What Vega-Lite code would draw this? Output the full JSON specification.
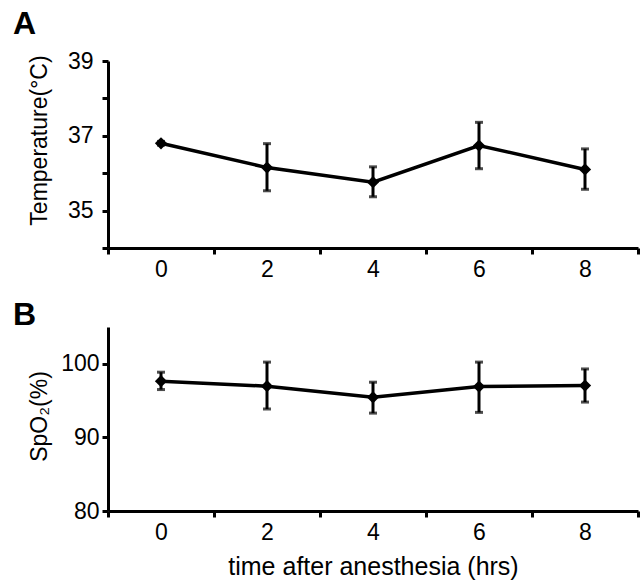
{
  "$schema": "https://vega.github.io/schema/vega-lite/v6.json",
  "background": "white",
  "padding": {"left": 13, "top": 8, "right": 2, "bottom": 2},
  "config": {
    "view": {"stroke": null},
    "font": "Liberation Sans",
    "title": {"anchor": "start", "frame": "bounds", "fontSize": 32, "fontWeight": "bold", "color": "black", "font": "Liberation Sans"}
  },
  "datasets": {
    "temp": [
      {"t": 0, "mean": 36.8, "lo": 36.75, "hi": 36.85},
      {"t": 2, "mean": 36.15, "lo": 35.53, "hi": 36.79},
      {"t": 4, "mean": 35.76, "lo": 35.37, "hi": 36.17},
      {"t": 6, "mean": 36.74, "lo": 36.12, "hi": 37.36},
      {"t": 8, "mean": 36.1, "lo": 35.57, "hi": 36.65}
    ],
    "spo2": [
      {"t": 0, "mean": 97.64, "lo": 96.5, "hi": 98.86},
      {"t": 2, "mean": 96.96, "lo": 93.86, "hi": 100.23},
      {"t": 4, "mean": 95.45, "lo": 93.3, "hi": 97.5},
      {"t": 6, "mean": 96.9, "lo": 93.4, "hi": 100.23},
      {"t": 8, "mean": 97.04, "lo": 94.8, "hi": 99.3}
    ]
  },
  "spacing": 18,
  "vconcat": [
    {
      "width": 530, "height": 187,
      "title": {"text": "A", "dx": -15, "offset": 9},
      "data": {"name": "temp"},
      "encoding": {
        "x": {
          "field": "t", "type": "quantitative",
          "scale": {"domain": [-1, 9], "nice": false, "zero": false},
          "axis": {
            "title": null, "values": [-1, 0, 1, 2, 3, 4, 5, 6, 7, 8, 9],
            "labelExpr": "datum.value % 2 == 0 ? datum.label : ''",
            "tickOpacity": {"condition": {"test": "datum.value % 2 == 0", "value": 0}, "value": 1},
            "labelOverlap": false, "labelFlush": false, "grid": false,
            "domainColor": "black", "domainWidth": 3, "tickColor": "black", "tickWidth": 3, "tickSize": 6,
            "labelColor": "black", "labelFontSize": 23, "labelFont": "Liberation Sans", "labelPadding": 4
          }
        }
      },
      "layer": [
        {
          "mark": {"type": "rule", "strokeWidth": 3, "color": "black"},
          "encoding": {
            "y": {
              "field": "lo", "type": "quantitative", "title": "Temperature(°C)",
              "scale": {"domain": [34, 39], "nice": false, "zero": false},
              "axis": {
                "values": [34, 35, 36, 37, 38, 39],
                "labelExpr": "datum.value == 35 || datum.value == 37 || datum.value == 39 ? datum.label : ''",
                "labelOverlap": false, "labelFlush": false, "grid": false,
                "domainColor": "black", "domainWidth": 3, "tickColor": "black", "tickWidth": 3, "tickSize": 6,
                "labelColor": "black", "labelFontSize": 23, "labelFont": "Liberation Sans", "labelPadding": 9,
                "titleColor": "black", "titleFont": "Liberation Sans", "titleFontWeight": "normal", "titleFontSize": 23, "titleX": -57, "titleY": 79
              }
            },
            "y2": {"field": "hi"}
          }
        },
        {
          "mark": {"type": "tick", "orient": "horizontal", "size": 8, "thickness": 3, "color": "black"},
          "encoding": {"y": {
              "field": "lo", "type": "quantitative", "title": "Temperature(°C)",
              "scale": {"domain": [34, 39], "nice": false, "zero": false},
              "axis": {
                "values": [34, 35, 36, 37, 38, 39],
                "labelExpr": "datum.value == 35 || datum.value == 37 || datum.value == 39 ? datum.label : ''",
                "labelOverlap": false, "labelFlush": false, "grid": false,
                "domainColor": "black", "domainWidth": 3, "tickColor": "black", "tickWidth": 3, "tickSize": 6,
                "labelColor": "black", "labelFontSize": 23, "labelFont": "Liberation Sans", "labelPadding": 9,
                "titleColor": "black", "titleFont": "Liberation Sans", "titleFontWeight": "normal", "titleFontSize": 23, "titleX": -57, "titleY": 79
              }}}
        },
        {
          "mark": {"type": "tick", "orient": "horizontal", "size": 8, "thickness": 3, "color": "black"},
          "encoding": {"y": {
              "field": "hi", "type": "quantitative", "title": "Temperature(°C)",
              "scale": {"domain": [34, 39], "nice": false, "zero": false},
              "axis": {
                "values": [34, 35, 36, 37, 38, 39],
                "labelExpr": "datum.value == 35 || datum.value == 37 || datum.value == 39 ? datum.label : ''",
                "labelOverlap": false, "labelFlush": false, "grid": false,
                "domainColor": "black", "domainWidth": 3, "tickColor": "black", "tickWidth": 3, "tickSize": 6,
                "labelColor": "black", "labelFontSize": 23, "labelFont": "Liberation Sans", "labelPadding": 9,
                "titleColor": "black", "titleFont": "Liberation Sans", "titleFontWeight": "normal", "titleFontSize": 23, "titleX": -57, "titleY": 79
              }}}
        },
        {
          "mark": {"type": "line", "strokeWidth": 3.5, "color": "black", "point": {"shape": "diamond", "size": 150, "filled": true, "color": "black"}},
          "encoding": {"y": {
              "field": "mean", "type": "quantitative", "title": "Temperature(°C)",
              "scale": {"domain": [34, 39], "nice": false, "zero": false},
              "axis": {
                "values": [34, 35, 36, 37, 38, 39],
                "labelExpr": "datum.value == 35 || datum.value == 37 || datum.value == 39 ? datum.label : ''",
                "labelOverlap": false, "labelFlush": false, "grid": false,
                "domainColor": "black", "domainWidth": 3, "tickColor": "black", "tickWidth": 3, "tickSize": 6,
                "labelColor": "black", "labelFontSize": 23, "labelFont": "Liberation Sans", "labelPadding": 9,
                "titleColor": "black", "titleFont": "Liberation Sans", "titleFontWeight": "normal", "titleFontSize": 23, "titleX": -57, "titleY": 79
              }}}
        }
      ]
    },
    {
      "width": 530, "height": 184,
      "title": {"text": "B", "dx": -15, "offset": -5},
      "data": {"name": "spo2"},
      "encoding": {
        "x": {
          "field": "t", "type": "quantitative",
          "scale": {"domain": [-1, 9], "nice": false, "zero": false},
          "axis": {
            "title": "time after anesthesia (hrs)", "titleFontSize": 25, "titlePadding": 10,
            "titleColor": "black", "titleFont": "Liberation Sans", "titleFontWeight": "normal",
            "values": [-1, 0, 1, 2, 3, 4, 5, 6, 7, 8, 9],
            "labelExpr": "datum.value % 2 == 0 ? datum.label : ''",
            "tickOpacity": {"condition": {"test": "datum.value % 2 == 0", "value": 0}, "value": 1},
            "labelOverlap": false, "labelFlush": false, "grid": false,
            "domainColor": "black", "domainWidth": 3, "tickColor": "black", "tickWidth": 3, "tickSize": 6,
            "labelColor": "black", "labelFontSize": 23, "labelFont": "Liberation Sans", "labelPadding": 4
          }
        }
      },
      "layer": [
        {
          "mark": {"type": "rule", "strokeWidth": 3, "color": "black"},
          "encoding": {
            "y": {
              "field": "lo", "type": "quantitative", "title": "SpO₂(%)",
              "scale": {"domain": [80, 105], "nice": false, "zero": false},
              "axis": {
                "values": [80, 90, 100],
                "labelOverlap": false, "labelFlush": false, "grid": false,
                "domainColor": "black", "domainWidth": 3, "tickColor": "black", "tickWidth": 3, "tickSize": 6,
                "labelColor": "black", "labelFontSize": 23, "labelFont": "Liberation Sans", "labelPadding": 3,
                "titleColor": "black", "titleFont": "Liberation Sans", "titleFontWeight": "normal", "titleFontSize": 23, "titleX": -57, "titleY": 89
              }
            },
            "y2": {"field": "hi"}
          }
        },
        {
          "mark": {"type": "tick", "orient": "horizontal", "size": 8, "thickness": 3, "color": "black"},
          "encoding": {"y": {
              "field": "lo", "type": "quantitative", "title": "SpO₂(%)",
              "scale": {"domain": [80, 105], "nice": false, "zero": false},
              "axis": {
                "values": [80, 90, 100],
                "labelOverlap": false, "labelFlush": false, "grid": false,
                "domainColor": "black", "domainWidth": 3, "tickColor": "black", "tickWidth": 3, "tickSize": 6,
                "labelColor": "black", "labelFontSize": 23, "labelFont": "Liberation Sans", "labelPadding": 3,
                "titleColor": "black", "titleFont": "Liberation Sans", "titleFontWeight": "normal", "titleFontSize": 23, "titleX": -57, "titleY": 89
              }}}
        },
        {
          "mark": {"type": "tick", "orient": "horizontal", "size": 8, "thickness": 3, "color": "black"},
          "encoding": {"y": {
              "field": "hi", "type": "quantitative", "title": "SpO₂(%)",
              "scale": {"domain": [80, 105], "nice": false, "zero": false},
              "axis": {
                "values": [80, 90, 100],
                "labelOverlap": false, "labelFlush": false, "grid": false,
                "domainColor": "black", "domainWidth": 3, "tickColor": "black", "tickWidth": 3, "tickSize": 6,
                "labelColor": "black", "labelFontSize": 23, "labelFont": "Liberation Sans", "labelPadding": 3,
                "titleColor": "black", "titleFont": "Liberation Sans", "titleFontWeight": "normal", "titleFontSize": 23, "titleX": -57, "titleY": 89
              }}}
        },
        {
          "mark": {"type": "line", "strokeWidth": 3.5, "color": "black", "point": {"shape": "diamond", "size": 150, "filled": true, "color": "black"}},
          "encoding": {"y": {
              "field": "mean", "type": "quantitative", "title": "SpO₂(%)",
              "scale": {"domain": [80, 105], "nice": false, "zero": false},
              "axis": {
                "values": [80, 90, 100],
                "labelOverlap": false, "labelFlush": false, "grid": false,
                "domainColor": "black", "domainWidth": 3, "tickColor": "black", "tickWidth": 3, "tickSize": 6,
                "labelColor": "black", "labelFontSize": 23, "labelFont": "Liberation Sans", "labelPadding": 3,
                "titleColor": "black", "titleFont": "Liberation Sans", "titleFontWeight": "normal", "titleFontSize": 23, "titleX": -57, "titleY": 89
              }}}
        }
      ]
    }
  ]
}
